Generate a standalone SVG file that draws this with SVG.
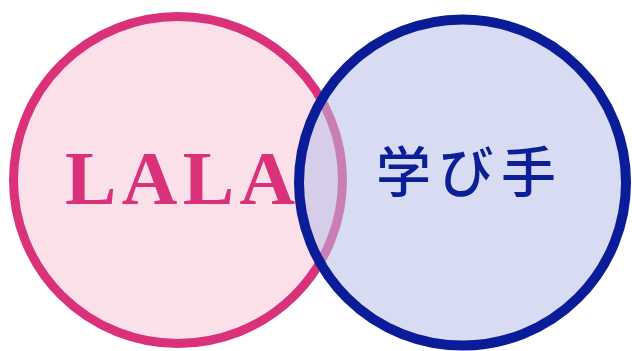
<svg xmlns="http://www.w3.org/2000/svg" width="632" height="351" viewBox="0 0 632 351">
<style>
.lala{font-family:"Liberation Serif","Times New Roman",serif;font-weight:bold;font-size:77px;fill:#d9327a}
.manabi{font-family:"Noto Sans CJK JP","Noto Sans",sans-serif;font-weight:500;font-size:55px;fill:#0d1f96}
</style>
<rect width="632" height="351" fill="#ffffff"/>
<g id="lala">
<ellipse cx="178" cy="180" rx="164.5" ry="163.5" fill="#fbdfe9" stroke="#da327a" stroke-width="9"/>
<text class="lala" x="65" y="204" textLength="230" lengthAdjust="spacing">LALA</text>
</g>
<g id="manabite">
<ellipse cx="462.5" cy="182.5" rx="163.5" ry="163" fill="#b8c0e8" fill-opacity="0.55" stroke="#0b1c98" stroke-width="10"/>
<text class="manabi" x="376" y="192" textLength="180" lengthAdjust="spacing">学び手</text>
</g>
<g id="connectors"></g>
</svg>
